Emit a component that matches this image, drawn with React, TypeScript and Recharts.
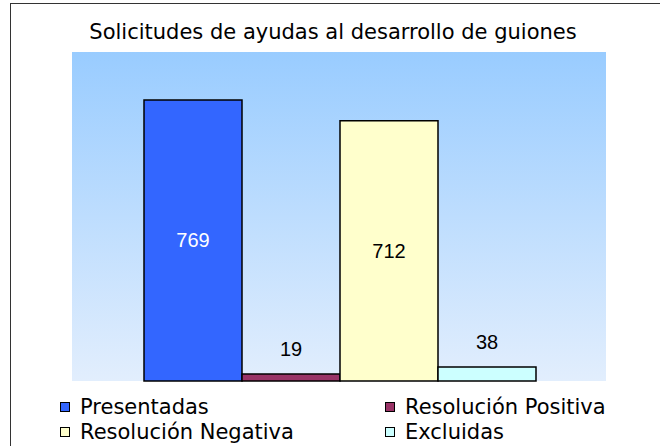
import { BarChart, Bar, XAxis, YAxis, CartesianGrid, LabelList } from 'recharts'

const categories = ['Solicitudes']
const seriesNames = ['Presentadas', 'Resolución Positiva', 'Resolución Negativa', 'Excluidas']
const seriesKeys = ['presentadas', 'positiva', 'negativa', 'excluidas']
const seriesValues = [769, 19, 712, 38]
const seriesColors = ['#3366FF', '#993366', '#FFFFCC', '#CCFFFF']
const labelColors = ['#FFFFFF', '#000000', '#000000', '#000000']

const data = categories.map(name => {
  const row: any = { name }
  seriesKeys.forEach((k, i) => { row[k] = seriesValues[i] })
  return row
})

const FONT = '"DejaVu Sans", Verdana, sans-serif'

const makeLabel = (color: string) => (props: any) => {
  const { x, y, width, height, value } = props
  const inside = height > 40
  const cy = inside ? y + height / 2 : y - 25
  return (
    <text
      x={x + width / 2}
      y={cy}
      textAnchor="middle"
      dominantBaseline="central"
      fill={inside ? color : '#000'}
      fontFamily='"Liberation Sans", Arial, sans-serif'
      fontSize={20}
    >
      {value}
    </text>
  )
}

const ChartLegend = () => {
  const cols = [60, 385]
  const rows = [407, 432]
  return (
    <>
      {seriesNames.map((name, i) => (
        <div
          key={name}
          style={{
            position: 'absolute',
            left: cols[i % 2],
            top: rows[Math.floor(i / 2)] - 12,
            height: 24,
            display: 'flex',
            alignItems: 'center',
            fontFamily: FONT,
            fontSize: 21,
            color: '#000',
            whiteSpace: 'nowrap',
          }}
        >
          <span
            style={{
              display: 'inline-block',
              width: 8,
              height: 8,
              border: '1px solid #000',
              background: seriesColors[i],
              marginRight: 10,
            }}
          />
          {name}
        </div>
      ))}
    </>
  )
}

export default function App() {
  return (
    <div style={{ position: 'absolute', left: 0, top: 0, width: 660, height: 446, overflow: 'hidden', background: '#fff' }}>
      <div
        style={{
          position: 'absolute',
          left: 10,
          top: 3,
          width: 700,
          height: 500,
          border: '1px solid #333',
          boxSizing: 'border-box',
        }}
      />
      <div
        style={{
          position: 'absolute',
          left: 0,
          width: 666,
          top: 21,
          textAlign: 'center',
          fontFamily: FONT,
          fontSize: 21,
          lineHeight: '22px',
          color: '#000',
        }}
      >
        Solicitudes de ayudas al desarrollo de guiones
      </div>
      <div style={{ position: 'absolute', left: 0, top: 0 }}>
        <BarChart
          width={660}
          height={446}
          data={data}
          margin={{ top: 52, right: 54, bottom: 65, left: 72 }}
          barCategoryGap={72}
          barGap={0}
        >
          <defs>
            <linearGradient id="bg" x1="0" y1="0" x2="0" y2="1">
              <stop offset="0%" stopColor="#99CCFF" />
              <stop offset="100%" stopColor="#E2EEFD" />
            </linearGradient>
          </defs>
          <CartesianGrid horizontal={false} vertical={false} fill="url(#bg)" />
          <XAxis dataKey="name" hide />
          <YAxis domain={[0, 900]} hide />
          {seriesKeys.map((k, i) => (
            <Bar
              key={k}
              dataKey={k}
              name={seriesNames[i]}
              fill={seriesColors[i]}
              stroke="#000"
              strokeWidth={1.5}
              isAnimationActive={false}
            >
              <LabelList dataKey={k} content={makeLabel(labelColors[i])} />
            </Bar>
          ))}
        </BarChart>
      </div>
      <ChartLegend />
    </div>
  )
}
